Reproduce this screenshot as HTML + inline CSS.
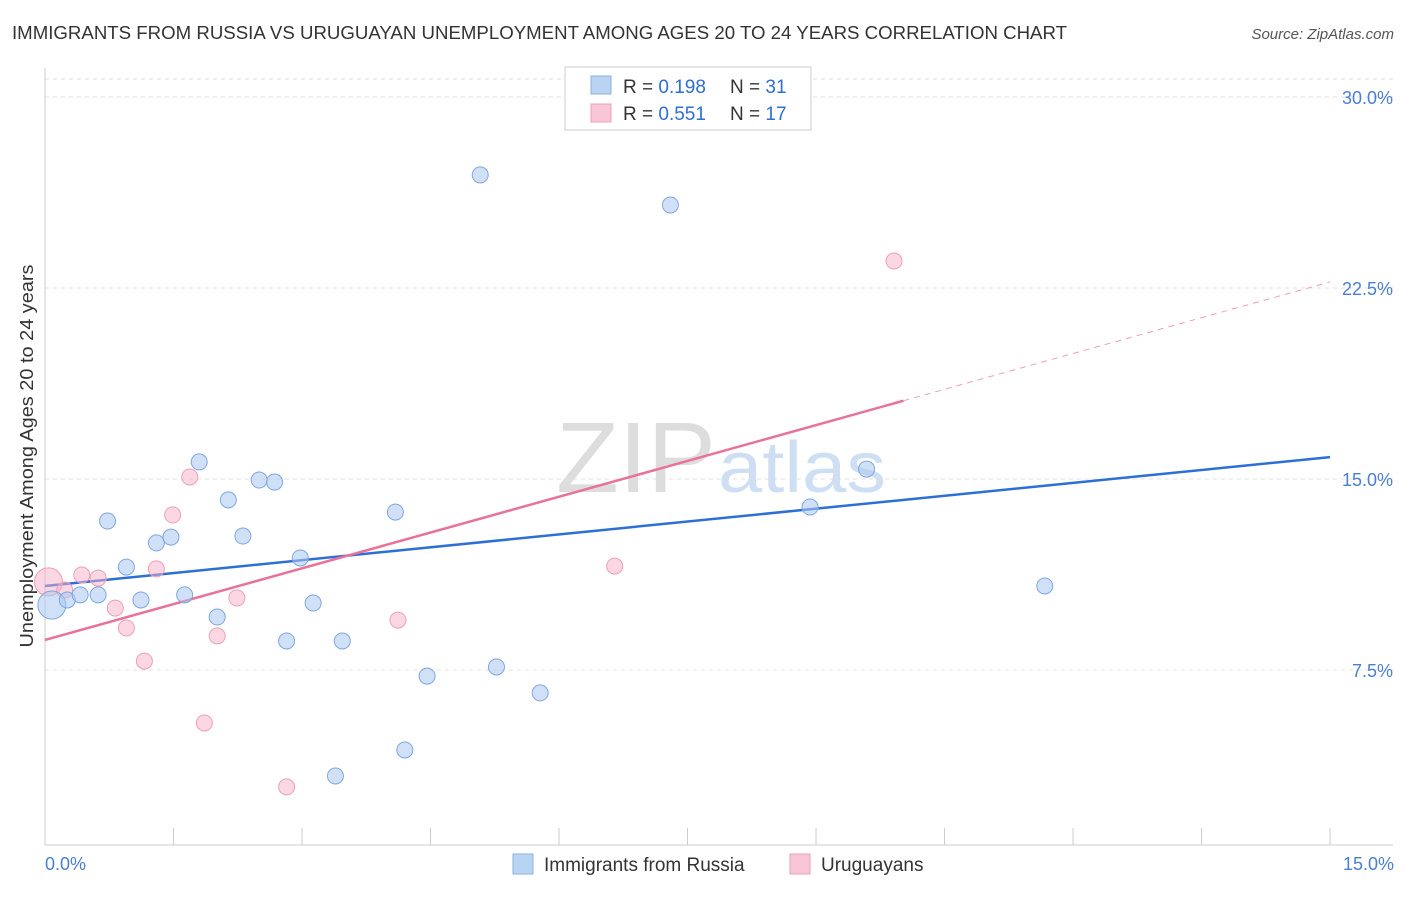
<!DOCTYPE html>
<html><head><meta charset="utf-8"><style>
body{margin:0;background:#fff;font-family:"Liberation Sans",sans-serif;}
svg text{font-family:"Liberation Sans",sans-serif;}
</style></head><body>
<svg width="1406" height="892">
<text x="12" y="39" font-size="18" fill="#333" textLength="1055" lengthAdjust="spacingAndGlyphs">IMMIGRANTS FROM RUSSIA VS URUGUAYAN UNEMPLOYMENT AMONG AGES 20 TO 24 YEARS CORRELATION CHART</text>
<text x="1394" y="39" font-size="15" fill="#555" font-style="italic" text-anchor="end">Source: ZipAtlas.com</text>
<text x="33" y="456" font-size="18" fill="#333" text-anchor="middle" textLength="383" lengthAdjust="spacingAndGlyphs" transform="rotate(-90 33 456)">Unemployment Among Ages 20 to 24 years</text>
<g id="grid"></g>
<text x="716" y="492" font-size="100" fill="#ddd" text-anchor="end" font-family="Liberation Serif" textLength="160" lengthAdjust="spacingAndGlyphs">ZIP</text>
<text x="718" y="492" font-size="72" fill="#cfdff3" textLength="168" lengthAdjust="spacingAndGlyphs">atlas</text>
<g id="lines"></g>
<g id="pts"></g>
<g>
<rect x="565" y="67" width="246" height="63" fill="#fff" stroke="#ccc"/>
<rect x="591" y="76" width="20" height="18" fill="#b9d3f3" stroke="#8ab0e6"/>
<text x="623" y="93" font-size="19" fill="#333">R = <tspan fill="#2d6fd6">0.198</tspan></text>
<text x="730" y="93" font-size="19" fill="#333">N = <tspan fill="#2d6fd6">31</tspan></text>
<rect x="591" y="104" width="20" height="18" fill="#f8c6d6" stroke="#eca0b8"/>
<text x="623" y="120" font-size="19" fill="#333">R = <tspan fill="#2d6fd6">0.551</tspan></text>
<text x="730" y="120" font-size="19" fill="#333">N = <tspan fill="#2d6fd6">17</tspan></text>
</g>
<g>
<rect x="513" y="854" width="20" height="20" fill="#b9d3f3" stroke="#8ab0e6"/>
<text x="544" y="871" font-size="19" fill="#333">Immigrants from Russia</text>
<rect x="790" y="854" width="20" height="20" fill="#f8c6d6" stroke="#eca0b8"/>
<text x="821" y="871" font-size="19" fill="#333">Uruguayans</text>
</g>
<text x="45" y="870" font-size="18" fill="#4a7fd4">0.0%</text>
<text x="1394" y="870" font-size="18" fill="#4a7fd4" text-anchor="end">15.0%</text>
</svg>
<script>
const yTicks=[30,22.5,15,7.5];
const yTickLabels=["30.0%","22.5%","15.0%","7.5%"];
const blueX=[.08,.26,.41,.62,.73,.95,1.12,1.30,1.47,1.63,1.80,2.01,2.14,2.31,2.50,2.68,2.82,2.98,3.13,3.39,3.47,4.09,4.20,4.46,5.08,5.27,5.78,7.30,8.93,9.59,11.67];
const blueY=[10.05,10.25,10.45,10.45,13.35,11.54,10.25,12.49,12.72,10.45,15.67,9.58,14.18,12.76,14.96,14.88,8.64,11.90,10.13,3.34,8.64,13.70,4.36,7.26,26.94,7.62,6.60,25.76,13.90,15.39,10.80];
const pinkX=[.04,.23,.43,.62,.82,.95,1.16,1.30,1.49,1.69,1.86,2.01,2.24,2.82,4.12,6.65,9.91];
const pinkY=[10.96,10.64,11.23,11.11,9.93,9.15,7.85,11.47,13.59,15.08,5.42,8.84,10.33,2.91,9.46,11.58,23.56];
const blueTrend=[10.80,15.86];
const pinkTrend=[8.68,22.74];
const pinkSolidEnd=10.02;
const NS="http://www.w3.org/2000/svg";
const sx=v=>45+v*85.67, sy=v=>861-v*191/7.5;
function mk(t,a,p){const e=document.createElementNS(NS,t);for(const k in a)e.setAttribute(k,a[k]);p.appendChild(e);return e;}
const grid=document.getElementById('grid');
mk('line',{x1:45,y1:79,x2:1393,y2:79,stroke:'#ddd','stroke-dasharray':'4 4'},grid);
yTicks.forEach((t,i)=>{
 const l=mk('line',{x1:45,y1:sy(t),x2:1393,y2:sy(t),stroke:'#e2e2e2','stroke-dasharray':'4 4'},grid);
 
 
 const tx=mk('text',{x:1393,y:sy(t)+7,'font-size':18,fill:'#4a7fd4','text-anchor':'end'},grid);
 tx.textContent=yTickLabels[i];
 
 
});
mk('line',{x1:45,y1:68,x2:45,y2:845,stroke:'#ccc'},grid);
mk('line',{x1:45,y1:845,x2:1393,y2:845,stroke:'#ccc'},grid);
for(let i=0;i<=10;i++){const x=sx(i*1.5);const tk=mk('line',{x1:x,y1:828,x2:x,y2:845,stroke:'#ccc'},grid);
 
 }
const lines=document.getElementById('lines');
const bl=mk('line',{x1:sx(0),y1:sy(blueTrend[0]),x2:sx(15),y2:sy(blueTrend[1]),stroke:'#2d6fd6','stroke-width':2.5},lines);


const pe=pinkTrend[0]+(pinkTrend[1]-pinkTrend[0])*pinkSolidEnd/15;
const pl=mk('line',{x1:sx(0),y1:sy(pinkTrend[0]),x2:sx(pinkSolidEnd),y2:sy(pe),stroke:'#e8729a','stroke-width':2.5},lines);


const pd=mk('line',{x1:sx(pinkSolidEnd),y1:sy(pe),x2:sx(15),y2:sy(pinkTrend[1]),stroke:'#eba0b8','stroke-width':1,'stroke-dasharray':'6 5'},lines);


const pts=document.getElementById('pts');
pinkX.forEach((x,i)=>{const c=mk('circle',{cx:sx(x),cy:sy(pinkY[i]),r:i==0?14:8,fill:'rgba(245,176,200,0.5)',stroke:'#eca0b8','stroke-width':1},pts);
 
 });
blueX.forEach((x,i)=>{const c=mk('circle',{cx:sx(x),cy:sy(blueY[i]),r:i==0?14:8,fill:'rgba(169,200,240,0.55)',stroke:'#7fa6df','stroke-width':1},pts);
 
 });
</script>
</body></html>
